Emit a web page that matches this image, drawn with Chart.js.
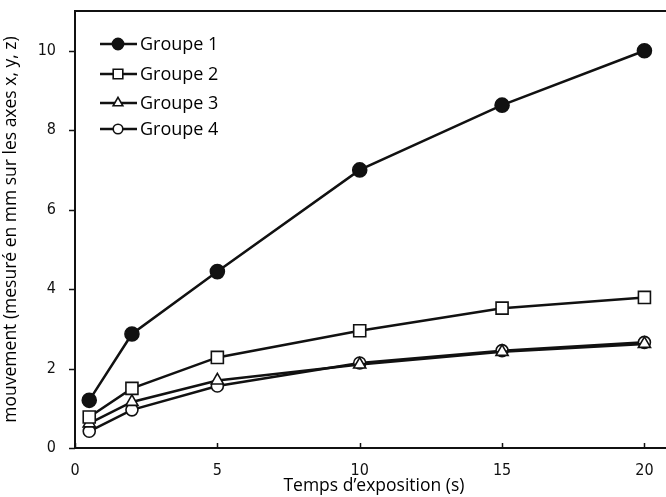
<!DOCTYPE html>
<html>
<head>
<meta charset="utf-8">
<script src="https://cdn.jsdelivr.net/npm/chart.js@4"></script>
<style>
  html, body { margin: 0; padding: 0; background: #fff; overflow: hidden; }
  #wrap { width: 683px; height: 497px; }
</style>
</head>
<body>
<div id="wrap"><canvas id="mvtChart" width="683" height="497"></canvas></div>
<script>
const times = [0.5, 2, 5, 10, 15, 20];
const groupe1 = [1.2, 2.87, 4.44, 7.0, 8.63, 10.0];
const groupe2 = [0.78, 1.5, 2.28, 2.95, 3.52, 3.79];
const groupe3 = [0.62, 1.16, 1.7, 2.1, 2.42, 2.62];
const groupe4 = [0.42, 0.96, 1.56, 2.14, 2.45, 2.66];
const labels = ["Groupe 1", "Groupe 2", "Groupe 3", "Groupe 4"];
const markers = ["circle", "rect", "triangle", "circle"];
const markerSize = [7, 8.5, 7, 6];
const fills = ["#111", "#fff", "#fff", "#fff"];
const xTicks = [0, 5, 10, 15, 20];
const yTicks = [0, 2, 4, 6, 8, 10];

const series = [groupe1, groupe2, groupe3, groupe4];

function toPoints(vals) {
  return vals.map((v, i) => ({ x: times[i], y: v }));
}

// legend (line + marker), top frame line and short tick marks
const lineLegend = {
  id: "lineLegend",
  afterDraw(chart) {
    const ctx = chart.ctx;
    const a = chart.chartArea;
    const rows = [44, 74, 103, 129];
    ctx.save();
    chart.data.datasets.forEach((ds, i) => {
      const y = rows[i];
      ctx.strokeStyle = "#111";
      ctx.lineWidth = 2.5;
      ctx.beginPath();
      ctx.moveTo(100, y);
      ctx.lineTo(137, y);
      ctx.stroke();
      ctx.fillStyle = ds.pointBackgroundColor;
      ctx.strokeStyle = "#111";
      ctx.lineWidth = 1.6;
      Chart.helpers.drawPoint(ctx, { pointStyle: ds.pointStyle, radius: ds.pointRadius * 0.8, borderWidth: 1.6 }, 118, y);
      ctx.fillStyle = "#000";
      ctx.font = "18px 'Open Sans'";
      ctx.textBaseline = "middle";
      ctx.textAlign = "left";
      ctx.fillText(ds.label, 140, y + 1);
    });
    ctx.strokeStyle = "#111";
    ctx.lineWidth = 2;
    ctx.beginPath();
    ctx.moveTo(a.left, a.top);
    ctx.lineTo(a.right + 2, a.top);
    ctx.stroke();
    ctx.lineWidth = 1.5;
    ctx.beginPath();
    xTicks.forEach(v => {
      const px = Math.round(chart.scales.x.getPixelForValue(v)) + 0.5;
      ctx.moveTo(px, a.bottom);
      ctx.lineTo(px, a.bottom - 5);
    });
    yTicks.forEach(v => {
      const py = Math.round(chart.scales.y.getPixelForValue(v)) + 0.5;
      ctx.moveTo(a.left, py);
      ctx.lineTo(a.left - 6, py);
    });
    ctx.stroke();
    ctx.restore();
  }
};

new Chart(document.getElementById("mvtChart"), {
  type: "line",
  data: {
    datasets: series.map((vals, i) => ({
      label: labels[i],
      data: toPoints(vals),
      borderColor: "#111",
      borderWidth: 2.5,
      pointStyle: markers[i],
      pointRadius: markerSize[i],
      pointBackgroundColor: fills[i],
      pointBorderColor: "#111",
      pointBorderWidth: 1.6,
      tension: 0
    }))
  },
  options: {
    responsive: false,
    animation: false,
    layout: { padding: { top: 11, right: 0, left: 0, bottom: 0 } },
    plugins: {
      legend: { display: false },
      tooltip: { enabled: false }
    },
    scales: {
      x: {
        type: "linear",
        min: 0,
        max: 21,
        afterFit(scale) {
          scale.height = 49;
          scale.paddingLeft = 0;
          scale.paddingRight = 0;
        },
        afterBuildTicks(scale) { scale.ticks = xTicks.map(v => ({ value: v })); },
        grid: { display: false },
        border: { display: true, color: "#111", width: 2 },
        ticks: {
          color: "#111",
          padding: 5,
          maxRotation: 0,
          font: { family: "'DejaVu Sans Condensed', 'DejaVu Sans'", size: 16 }
        },
        title: {
          display: true,
          text: "Temps d\u2019exposition (s)",
          color: "#000",
          padding: { top: 0, bottom: 0 },
          font: { family: "'Open Sans'", size: 17.5 }
        }
      },
      y: {
        min: 0,
        max: 11,
        afterFit(scale) {
          scale.width = 75;
          scale.paddingTop = 0;
          scale.paddingBottom = 0;
        },
        afterBuildTicks(scale) { scale.ticks = yTicks.map(v => ({ value: v })); },
        grid: { display: false },
        border: { display: true, color: "#111", width: 2 },
        ticks: {
          color: "#111",
          padding: 11,
          font: { family: "'DejaVu Sans Condensed', 'DejaVu Sans'", size: 16 }
        },
        title: {
          display: true,
          text: "mouvement (mesur\u00e9 en mm sur les axes x, y, z)",
          color: "#000",
          padding: { top: 1, bottom: 0 },
          font: { family: "'Open Sans'", size: 17.5 }
        }
      }
    }
  },
  plugins: [lineLegend]
});
</script>
</body>
</html>
